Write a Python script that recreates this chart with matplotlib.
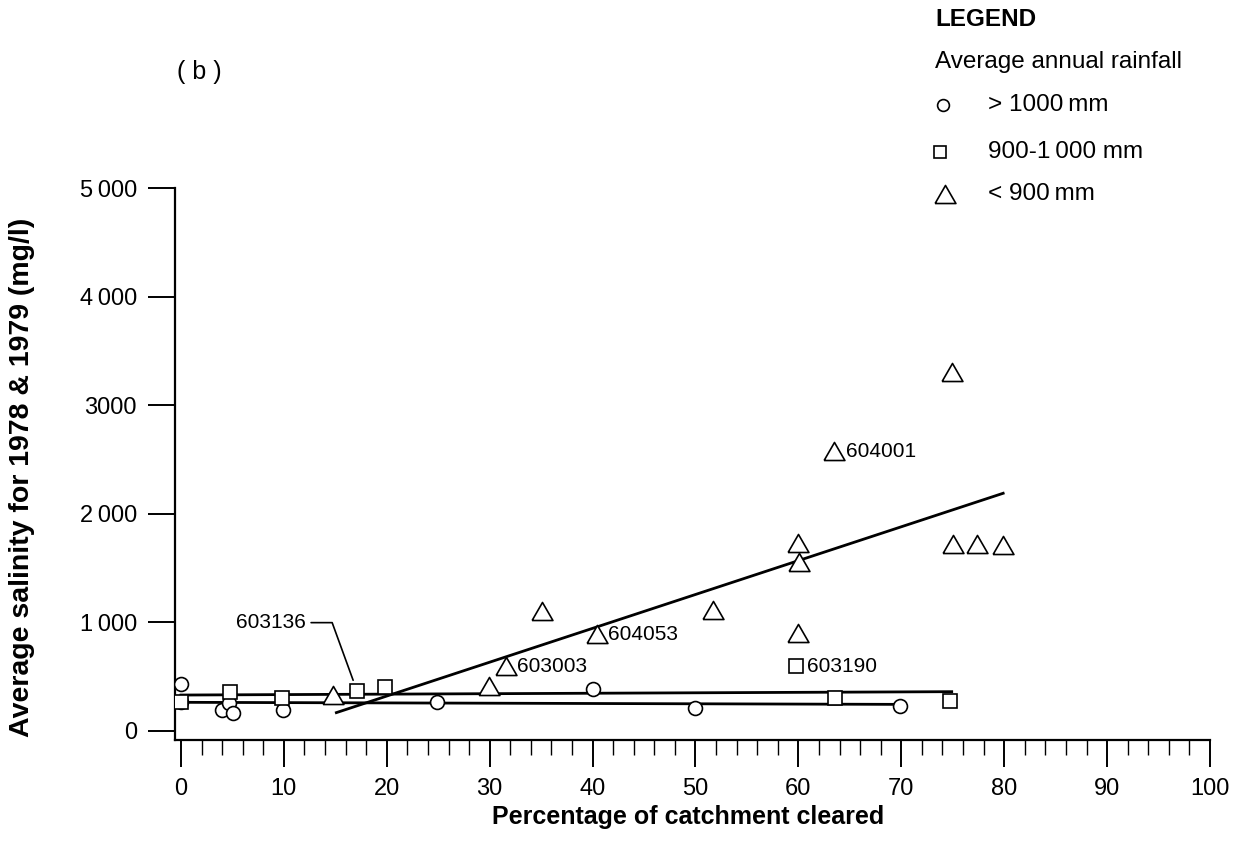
import matplotlib
matplotlib.use("Agg")
import matplotlib.pyplot as plt
from matplotlib.lines import Line2D
from matplotlib.ticker import MultipleLocator

plt.rcParams['font.family'] = ['Liberation Sans', 'DejaVu Sans']

# Datos (porcentaje desmontado vs salinidad media)
circle_x = [0, 0, 4.0, 4.7, 5.1, 9.9, 24.9, 40.0, 50.0, 69.9]
circle_y = [435, 265, 195, 262, 165, 193, 270, 385, 215, 230]

square_x = [0, 4.8, 9.8, 17.1, 19.8, 59.8, 63.6, 74.7]
square_y = [268, 362, 303, 371, 408, 598, 307, 276]

tri_x = [14.8, 29.9, 31.6, 35.1, 40.4, 51.7, 60.0, 60.05, 60.0, 63.5, 74.9, 75.0, 77.4, 79.9]
tri_y = [331, 417, 598, 1108, 893, 1114, 1734, 1559, 905, 2578, 3303, 1722, 1722, 1713]

# rectas de ajuste
tri_fit_x = [15.1, 79.9]
tri_fit_y = [169, 2189]
sq_fit_x = [0, 74.9]
sq_fit_y = [331, 362]
circ_fit_x = [0, 70]
circ_fit_y = [264, 245]

# estaciones etiquetadas
station_names = ['603003', '604053', '604001', '603190']
station_x = [31.6, 40.4, 63.5, 59.8]
station_y = [598, 893, 2578, 598]
leader_name = '603136'
leader_x = 17.1
leader_y = 371

y_ticks = [0, 1000, 2000, 3000, 4000, 5000]
y_tick_labels = ['0', '1\u2009000', '2\u2009000', '3000', '4\u2009000', '5\u2009000']
x_ticks = list(range(0, 101, 10))

legend_labels = ['> 1000\u2009mm', '900-1\u2009000 mm', '< 900\u2009mm']

tri_marker = [(-1, -0.866), (1, -0.866), (0, 0.866), (-1, -0.866)]

fig = plt.figure(figsize=(12.37, 8.58), dpi=100)
ax = fig.add_axes([175 / 1237, 1 - 740 / 858, (1210 - 175) / 1237, (740 - 188) / 858])

# lineas de tendencia
ax.plot(tri_fit_x, tri_fit_y, color='black', lw=2.0, zorder=2)
ax.plot(sq_fit_x, sq_fit_y, color='black', lw=2.0, zorder=2)
ax.plot(circ_fit_x, circ_fit_y, color='black', lw=2.0, zorder=2)

# puntos
ax.plot(circle_x, circle_y, 'o', ms=10, mfc='white', mec='black', mew=1.2, ls='none', zorder=3)
ax.plot(square_x, square_y, 's', ms=10, mfc='white', mec='black', mew=1.2, ls='none', zorder=3)
ax.plot(tri_x, tri_y, marker=tri_marker, ms=15, mfc='white', mec='black', mew=1.2, ls='none', zorder=3)

for nombre, sx, sy in zip(station_names, station_x, station_y):
    ax.annotate(nombre, (sx, sy), xytext=(8, 0), textcoords='offset points',
                ha='left', va='center', fontsize=15)

ax.annotate(leader_name, (leader_x, leader_y), xytext=(-37, 49), textcoords='offset points',
            ha='right', va='center', fontsize=15,
            arrowprops=dict(arrowstyle='-', color='black', lw=1.2,
                            connectionstyle='angle,angleA=0,angleB=110',
                            shrinkA=2, shrinkB=8))

ax.set_xlim(-0.58, 100)
ax.set_ylim(-83, 5000)

for lado in ['top', 'right']:
    ax.spines[lado].set_visible(False)
ax.spines['left'].set_linewidth(1.6)
ax.spines['bottom'].set_linewidth(1.6)

ax.set_yticks(y_ticks)
ax.set_yticklabels(y_tick_labels)
ax.set_xticks(x_ticks)
ax.xaxis.set_minor_locator(MultipleLocator(2))
ax.tick_params(axis='y', direction='out', length=19.5, width=1.4, pad=8, labelsize=17)
ax.tick_params(axis='x', which='major', direction='out', length=19.5, width=1.4, pad=8, labelsize=17)
ax.tick_params(axis='x', which='minor', direction='out', length=11, width=1.0)

fig.text(22 / 1237, 1 - 477 / 858, 'Average salinity for 1978 & 1979 (mg/l)',
         rotation=90, ha='center', va='center', fontsize=20.5, fontweight='bold')
fig.text(688 / 1237, 1 - 817 / 858, 'Percentage of catchment cleared',
         ha='center', va='center', fontsize=18, fontweight='bold')

fig.text(177 / 1237, 1 - 72 / 858, '( b )', ha='left', va='center', fontsize=18)

# leyenda manual
fig.text(935 / 1237, 1 - 20 / 858, 'LEGEND', ha='left', va='center', fontsize=17.5, fontweight='bold')
fig.text(935 / 1237, 1 - 62 / 858, 'Average annual rainfall', ha='left', va='center', fontsize=17.5)
leg_markers = [dict(marker='o', ms=8.5), dict(marker='s', ms=9), dict(marker=tri_marker, ms=15)]
leg_rows = [105, 152, 194]
leg_x = [943, 940, 945]
for lab, mk, fila, mx in zip(legend_labels, leg_markers, leg_rows, leg_x):
    fig.add_artist(Line2D([mx / 1237], [1 - fila / 858], transform=fig.transFigure,
                          mfc='white', mec='black', mew=1.2, ls='none', **mk))
    fig.text(988 / 1237, 1 - fila / 858, lab, ha='left', va='center', fontsize=17.5)

fig.savefig('out.png', dpi=100, facecolor='white')
